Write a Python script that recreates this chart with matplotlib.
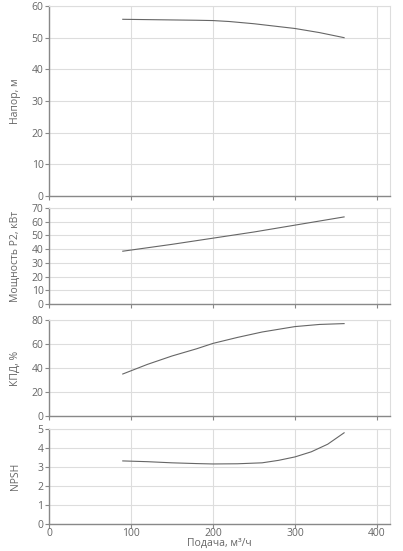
import matplotlib
matplotlib.use("Agg")
import matplotlib.pyplot as plt

plt.rcParams['font.family'] = ['Open Sans', 'DejaVu Sans']

# Data
q_head = [90, 120, 150, 180, 200, 220, 250, 280, 300, 330, 360]
head = [55.8, 55.7, 55.6, 55.5, 55.4, 55.1, 54.4, 53.5, 52.9, 51.6, 50.0]

q_power = [90, 150, 200, 250, 300, 360]
power = [38.5, 43.5, 48.0, 52.5, 57.5, 63.5]

q_eff = [90, 120, 150, 180, 200, 230, 260, 300, 330, 360]
eff = [35, 43, 50, 56, 60.5, 65.5, 70, 74.5, 76.3, 77]

q_npsh = [90, 120, 150, 180, 200, 230, 260, 280, 300, 320, 340, 360]
npsh = [3.32, 3.28, 3.22, 3.18, 3.16, 3.17, 3.22, 3.35, 3.53, 3.8, 4.2, 4.8]

x_ticks = [0, 100, 200, 300, 400]
panels = [
    (q_head, head, "Напор, м", [0, 10, 20, 30, 40, 50, 60], 60),
    (q_power, power, "Мощность P2, кВт", [0, 10, 20, 30, 40, 50, 60, 70], 70),
    (q_eff, eff, "КПД, %", [0, 20, 40, 60, 80], 80),
    (q_npsh, npsh, "NPSH", [0, 1, 2, 3, 4, 5], 5),
]

W, H = 403, 551
fig = plt.figure(figsize=(W / 100, H / 100), dpi=100)
fig.patch.set_facecolor("white")

boxes = [(6, 196), (208, 304), (320, 416), (429, 524)]
left_px, right_px = 49, 390
txt = "#666666"
for i, ((xs, ys, lab, yt, ymax), (t, b)) in enumerate(zip(panels, boxes)):
    ax = fig.add_axes([left_px / W, 1 - b / H, (right_px - left_px) / W, (b - t) / H])
    ax.plot(xs, ys, color="#666666", lw=0.8)
    ax.set_xlim(0, 416)
    ax.set_ylim(0, ymax)
    ax.set_yticks(yt)
    ax.set_xticks(x_ticks)
    ax.grid(True, color="#dddddd", lw=0.8)
    ax.set_axisbelow(True)
    for s in ["top", "right"]:
        ax.spines[s].set_color("#dddddd")
        ax.spines[s].set_linewidth(0.8)
    for s in ["left", "bottom"]:
        ax.spines[s].set_color("#888888")
        ax.spines[s].set_linewidth(1.0)
    ax.tick_params(axis="both", colors="#888888", labelcolor=txt, labelsize=7.5,
                   length=3, width=0.8, pad=1)
    ax.tick_params(axis="x", pad=0)
    ax.set_ylabel(lab, fontsize=7.5, color=txt)
    ax.yaxis.set_label_coords(-0.082, 0.5)
    if i < 3:
        ax.set_xticklabels([])
    else:
        ax.set_xlabel("Подача, м³/ч", fontsize=7.5, color=txt)
        ax.xaxis.set_label_coords(0.5, -0.15)

fig.savefig("out.png", dpi=100, facecolor="white")
